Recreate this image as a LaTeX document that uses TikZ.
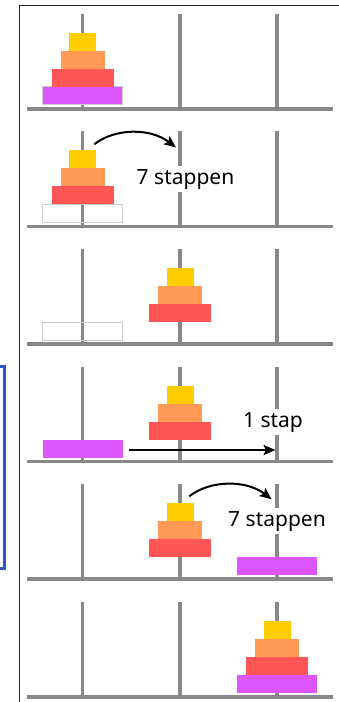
\documentclass[tikz,border=0pt]{standalone}
\usepackage{fontspec}
\setmainfont{Noto Sans}
\usetikzlibrary{arrows.meta}

\definecolor{pegGray}{HTML}{888888}
\definecolor{diskYellow}{HTML}{FFCC00}
\definecolor{diskOrange}{HTML}{FF9955}
\definecolor{diskRed}{HTML}{FF5555}
\definecolor{diskPurple}{HTML}{DD55FF}
\definecolor{slotGray}{HTML}{CCCCCC}
\definecolor{braceBlue}{HTML}{3355CC}
\definecolor{frameInk}{HTML}{222222}

% one disk on a peg: peg x, ground y, slot (1 = lowest), width, style
\newcommand\towerdisk[5]{%
  \path[#5] ({#1-#4/2},{#2-4-18*#3}) rectangle ({#1+#4/2},{#2-4-18*(#3-1)});}

% three pegs standing on one ground line
\newcommand\hanoiboard[1]{%
  \foreach \px in {82.5,180,277} \draw[peg] (\px,#1-95) -- (\px,#1);
  \draw[ground] (27,#1) -- (333,#1);}

\tikzset{
  peg/.style={draw=pegGray, line width=3.5pt},
  ground/.style={draw=pegGray, line width=3.5pt},
  ydisk/.style={fill=diskYellow},
  odisk/.style={fill=diskOrange},
  rdisk/.style={fill=diskRed},
  pdisk/.style={fill=diskPurple},
  emptyslot/.style={draw=slotGray, line width=1pt},
  steplabel/.style={fill=white, inner xsep=2pt, inner ysep=3pt,
    font=\fontsize{21pt}{25pt}\selectfont, text=black},
  movearrow/.style={draw=black, line width=2pt,
    -{Stealth[length=12pt, width=10pt, inset=2.5pt]}},
  frameline/.style={draw=frameInk, line width=1.2pt},
}

\begin{document}
\begin{tikzpicture}[x=1pt, y=-1pt]
\useasboundingbox (0,0) rectangle (339,702);

% outer frame and bracket
\draw[frameline] (19.5,702) -- (19.5,5.8) -- (339,5.8);
\draw[braceBlue, line width=2.5pt] (-10,366.5) -- (4.5,366.5) -- (4.5,568.7) -- (-10,568.7);

% 1: start position
\hanoiboard{108.8}
\towerdisk{82.5}{108.8}{1}{80}{pdisk, draw=slotGray, line width=1pt}
\towerdisk{82.5}{108.8}{2}{62}{rdisk}
\towerdisk{82.5}{108.8}{3}{44}{odisk}
\towerdisk{82.5}{108.8}{4}{27}{ydisk}

% 2: move the top three to the middle peg
\hanoiboard{226.4}
\towerdisk{82.5}{226.4}{1}{80}{emptyslot}
\towerdisk{82.5}{226.4}{2}{62}{rdisk}
\towerdisk{82.5}{226.4}{3}{44}{odisk}
\towerdisk{82.5}{226.4}{4}{27}{ydisk}
\node[steplabel, anchor=base] (t2) at (185.5,184) {7 stappen};
\coordinate (a2s) at (94.3,144.3);
\coordinate (a2e) at (176,147.5);
\draw[movearrow] (a2s) .. controls +(20,-16) and +(-26,-20) .. (a2e);

% 3: three disks parked on the middle peg
\hanoiboard{344.0}
\towerdisk{82.5}{344.0}{1}{80}{emptyslot}
\towerdisk{180}{344.0}{2}{62}{rdisk}
\towerdisk{180}{344.0}{3}{44}{odisk}
\towerdisk{180}{344.0}{4}{27}{ydisk}

% 4: largest disk goes to the right peg
\hanoiboard{461.6}
\towerdisk{82.5}{461.6}{1}{80}{pdisk}
\towerdisk{180}{461.6}{2}{62}{rdisk}
\towerdisk{180}{461.6}{3}{44}{odisk}
\towerdisk{180}{461.6}{4}{27}{ydisk}
\node[steplabel, anchor=base] (t4) at (273,427) {1 stap};
\coordinate (a4s) at (129,450);
\coordinate (a4e) at (275.5,450);
\draw[movearrow] (a4s) -- (a4e);

% 5: move the three back on top
\hanoiboard{579.2}
\towerdisk{277}{579.2}{1}{80}{pdisk}
\towerdisk{180}{579.2}{2}{62}{rdisk}
\towerdisk{180}{579.2}{3}{44}{odisk}
\towerdisk{180}{579.2}{4}{27}{ydisk}
\node[steplabel, anchor=base] (t5) at (277,526) {7 stappen};
\coordinate (a5s) at (189.3,496.3);
\coordinate (a5e) at (271.7,499.3);
\draw[movearrow] (a5s) .. controls +(20,-16) and +(-26,-20) .. (a5e);

% 6: finished tower on the right peg
\hanoiboard{696.8}
\towerdisk{277}{696.8}{1}{80}{pdisk}
\towerdisk{277}{696.8}{2}{62}{rdisk}
\towerdisk{277}{696.8}{3}{44}{odisk}
\towerdisk{277}{696.8}{4}{27}{ydisk}
\end{tikzpicture}
\end{document}
